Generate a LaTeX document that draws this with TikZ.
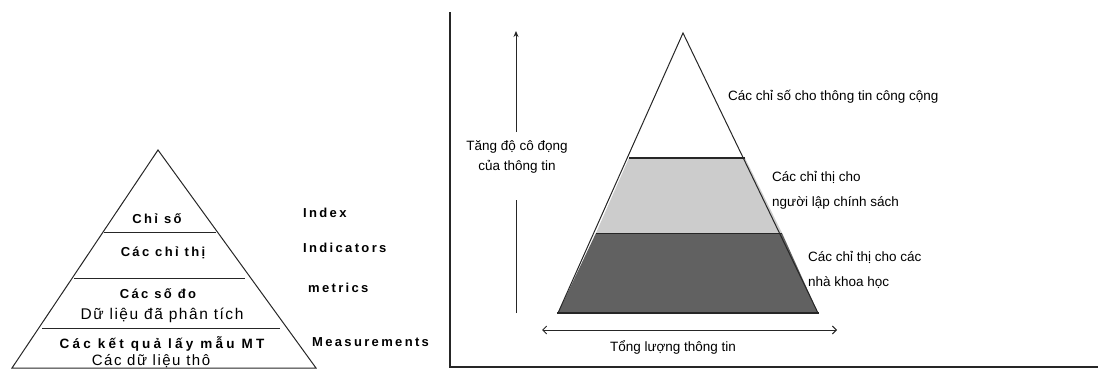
\documentclass[tikz,border=0pt]{standalone}
\usepackage{fontspec}
\setmainfont{Liberation Sans}
\newfontfamily\wideface[LetterSpace=10]{Liberation Sans}
\newfontfamily\widebold[LetterSpace=18]{Liberation Sans Bold}
\newfontfamily\widerbold[LetterSpace=24]{Liberation Sans Bold}
\usetikzlibrary{arrows.meta}
\tikzset{
  lbl/.style={inner sep=0pt, font=\fontsize{13.5}{25}\selectfont},
  wlbl/.style={inner sep=0pt, font=\wideface\fontsize{15}{17}\selectfont},
  blbl/.style={inner sep=0pt, font=\widebold\fontsize{13}{15}\selectfont},
  edge/.style={line width=1pt, draw=black!85},
  thick edge/.style={line width=2pt, draw=black!85},
  axis/.style={line width=1.4pt, draw=black!85},
  arr/.style={line width=0.9pt, draw=black!85},
}
\begin{document}
\begin{tikzpicture}[x=1pt,y=-1pt]
\useasboundingbox (0,0) rectangle (1098,378);
% ---------- left pyramid ----------
\coordinate (LA) at (158,150);
\coordinate (LBL) at (12,368);
\coordinate (LBR) at (316,368);
\draw[edge, line join=miter] (LBL) -- (LA) -- (LBR) -- cycle;
\draw[edge] (104,232) -- (216,232);
\draw[edge] (74,278) -- (245,278);
\draw[edge] (42,328) -- (280,328);
\node[blbl] (l1) at (157,219) {Chỉ số};
\node[blbl] (l2) at (163,253) {Các chỉ thị};
\node[blbl] (l3) at (158,294) {Các số đo};
\node[wlbl, font=\wideface\fontsize{15.5}{17}\selectfont] (l3b) at (162,315) {Dữ liệu đã phân tích};
\node[blbl, font=\widerbold\fontsize{13.5}{15}\selectfont] (l4) at (162,344) {Các kết quả lấy mẫu MT};
\node[wlbl] (l4b) at (151,361) {Các dữ liệu thô};
\node[blbl, anchor=west] (e1) at (303,213) {Index};
\node[blbl, anchor=west] (e2) at (303,248) {Indicators};
\node[blbl, anchor=west] (e3) at (308,288) {metrics};
\node[blbl, anchor=west] (e4) at (312,342) {Measurements};
% ---------- right frame ----------
\coordinate (ax0) at (450,12);
\coordinate (ax1) at (450,367);
\coordinate (ax2) at (1098,367);
\draw[axis] (ax0) -- (ax1) -- (ax2);
% ---------- right pyramid ----------
\fill[black!62] (596,233) -- (782,233) -- (818,313) -- (558,313) -- cycle;
\fill[black!20] (629,158) -- (745,158) -- (782,233) -- (596,233) -- cycle;
\draw[edge, line join=miter] (558,313) -- (683,33) -- (818,313);
\draw[edge, line width=1.6pt] (629,158) -- (745,158);
\draw[edge] (596,233) -- (782,233);
\draw[thick edge, line width=2.6pt] (557,313) -- (819,313);
% ---------- vertical arrow ----------
\node[lbl, align=center, font=\fontsize{13.5}{20}\selectfont] (vt) at (517,157) {Tăng độ cô đọng\\của thông tin};
\coordinate (vbot) at (516,313);
\coordinate (vtop) at (516,31);
\draw[arr] (vbot) -- (vbot |- 0,200);
\draw[arr, -{Stealth[length=6pt,width=5pt]}] (vtop |- 0,132) -- (vtop);
% ---------- horizontal arrow ----------
\coordinate (hl) at (542,330);
\coordinate (hr) at (837,330);
\draw[arr, {Straight Barb[length=4pt,width=8pt]}-{Straight Barb[length=4pt,width=8pt]}] (hl) -- (hr);
\node[lbl] (ht) at (673,347) {Tổng lượng thông tin};
% ---------- right labels ----------
\node[lbl, anchor=west] (r1) at (728,97) {Các chỉ số cho thông tin công cộng};
\node[lbl, anchor=west, align=left] (r2) at (772,190) {Các chỉ thị cho\\người lập chính sách};
\node[lbl, anchor=west, align=left] (r3) at (808,270) {Các chỉ thị cho các\\nhà khoa học};
\end{tikzpicture}
\end{document}
